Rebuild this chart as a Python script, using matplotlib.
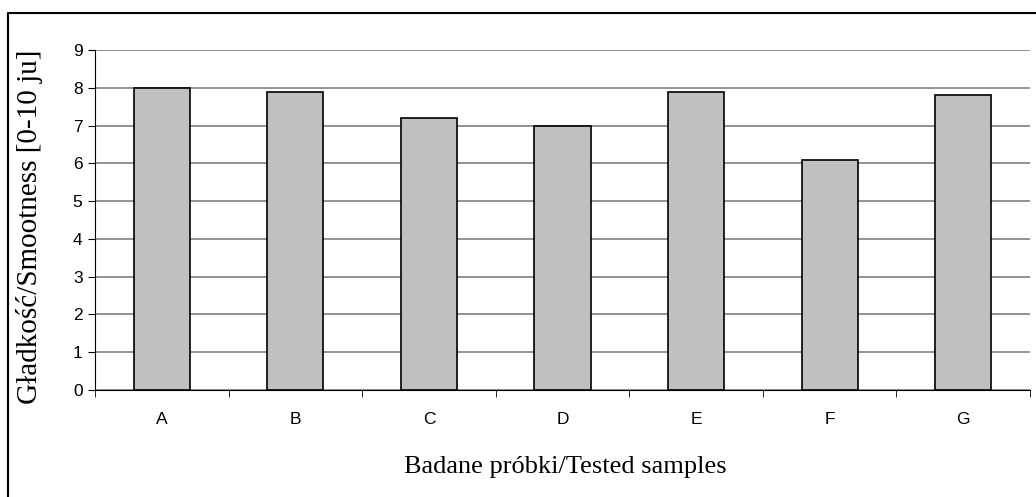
import matplotlib.pyplot as plt
from matplotlib.lines import Line2D
import numpy as np

# sample names and smoothness scores
samples = ['A', 'B', 'C', 'D', 'E', 'F', 'G']
smoothness = [8.0, 7.9, 7.2, 7.0, 7.9, 6.1, 7.8]
yticks = list(range(0, 10))

W, H = 1036, 497
fig = plt.figure(figsize=(W / 100, H / 100), dpi=100)
ax = fig.add_axes([95 / W, (H - 390) / H, 935 / W, 340 / H])

x = np.arange(len(samples))
ax.bar(x, smoothness, width=0.42, color='#C0C0C0', edgecolor='black',
       linewidth=1.2, zorder=3)

ax.set_xlim(-0.5, len(samples) - 0.5)
ax.set_ylim(0, 9)
ax.set_yticks(yticks)
ax.set_yticklabels([str(t) for t in yticks], family='Liberation Sans', fontsize=12.5)

# category labels centred, tick marks on the boundaries
ax.set_xticks(x)
ax.set_xticklabels(samples, family='Liberation Sans', fontsize=12.5)
ax.tick_params(axis='x', which='major', length=0, pad=16)
ax.set_xticks(np.arange(-0.5, len(samples) + 0.5, 1), minor=True)
ax.tick_params(axis='x', which='minor', length=5, direction='out', color='black')
ax.tick_params(axis='y', length=5, direction='out', color='black', pad=4)

ax.yaxis.grid(True, color='#808080', linewidth=1.2, zorder=0)
for s in ['top', 'right']:
    ax.spines[s].set_visible(False)
ax.spines['left'].set_color('black')
ax.spines['bottom'].set_color('black')

# axis titles placed in figure pixels
fig.text(565 / W, (H - 467) / H, 'Badane próbki/Tested samples',
         family='Liberation Serif', fontsize=19, ha='center', va='center')
fig.text(30 / W, (H - 227) / H, 'Gładkość/Smootness [0-10 ju]',
         family='Liberation Serif', fontsize=21, rotation=90,
         ha='center', va='center')

# outer frame, cut off at the right and bottom edges
fig.lines.append(Line2D([8 / W, 8 / W, 1.0], [0.0, (H - 13) / H, (H - 13) / H],
                        transform=fig.transFigure, color='black', linewidth=1.5))

fig.savefig('out.png', dpi=100)
